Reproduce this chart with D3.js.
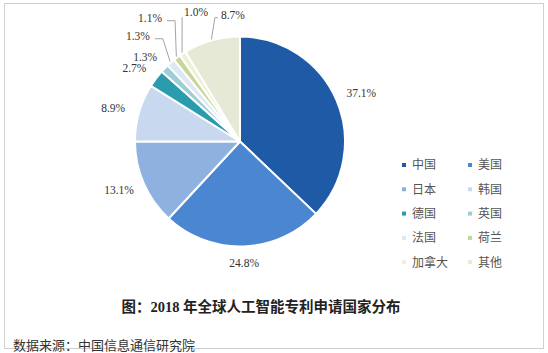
<!DOCTYPE html>
<html><head><meta charset="utf-8">
<script src="https://cdn.jsdelivr.net/npm/d3@7/dist/d3.min.js"></script>
<style>
html,body{margin:0;padding:0;background:#fff;}
svg{display:block;}
text{font-family:"Liberation Serif","Noto Sans CJK SC",serif;}
</style></head>
<body>
<svg id="c" width="548" height="353"></svg>
<script>
const categories = ["中国","美国","日本","韩国","德国","英国","法国","荷兰","加拿大","其他"];
const values = [37.1, 24.8, 13.1, 8.9, 2.7, 1.3, 1.3, 1.1, 1.0, 8.7];
const labels = ["37.1%","24.8%","13.1%","8.9%","2.7%","1.3%","1.3%","1.1%","1.0%","8.7%"];
const colors = ["#1f5aa7","#4b87d0","#8eb1e0","#c8d8ef","#2b9bae","#9fcdd6","#dde8f3","#c7d69a","#eef1d6","#e5e9d6"];
const title = "图：2018 年全球人工智能专利申请国家分布";
const source = "数据来源：中国信息通信研究院";

const svg = d3.select("#c");
// frame
svg.append("rect").attr("x",4.5).attr("y",3.5).attr("width",539).attr("height",345)
  .attr("fill","none").attr("stroke","#cfcfcf").attr("stroke-width",1);

const cx = 240, cy = 141.5, r = 105;
const g = svg.append("g").attr("transform",`translate(${cx},${cy})`);
const pie = d3.pie().sort(null).value(d=>d);
const arcs = pie(values);
const arc = d3.arc().innerRadius(0).outerRadius(r);
const color = d3.scaleOrdinal().domain(categories).range(colors);

g.selectAll("path").data(arcs).enter().append("path")
  .attr("d",arc).attr("fill",(d,i)=>color(categories[i]))
  .attr("stroke","#fff").attr("stroke-width",2).attr("stroke-linejoin","round");

// labels: default placement just outside slice
const tw = 32, th = 12;
// leader-line labels: label polar position (radius, angle in degrees)
const moved = {6:{R:147,a:316,elbow:-1}, 7:{R:153,a:324,elbow:-1}, 8:{R:137,a:340.5,elbow:0}, 9:{R:127,a:356.8,elbow:1}};
arcs.forEach((d,i)=>{
  const mid = (d.startAngle+d.endAngle)/2;
  const s = Math.sin(mid), c = Math.cos(mid);
  let x, y;
  if (moved[i]) {
    const m = moved[i], a = m.a*Math.PI/180;
    x = m.R*Math.sin(a); y = -m.R*Math.cos(a);
    const ex = (r+1)*s, ey = -(r+1)*c;
    let pts;
    if (m.elbow < 0) {
      const hx = x + tw/2 + 1, hy = y + 3;
      pts = [[hx,hy],[hx+8,hy],[ex,ey]];
    } else if (m.elbow > 0) {
      const hx = x - tw/2 - 2, hy = y + 3;
      pts = [[hx+3,hy],[hx,hy],[ex,ey]];
    } else {
      pts = [[ex,y+5],[ex,ey]];
      x = ex + 14;
    }
    g.append("path").attr("d",d3.line()(pts)).attr("fill","none")
      .attr("stroke","#8c8c8c").attr("stroke-width",0.8);
  } else {
    const R = r + 11;
    x = R*s + s*tw/2; y = -R*c - c*th/2;
  }
  g.append("text").attr("x",x).attr("y",y).attr("dy","0.35em")
    .attr("text-anchor","middle").attr("font-size",11.5).attr("fill","#333")
    .text(labels[i]);
});

// legend
const lg = svg.append("g");
categories.forEach((name,i)=>{
  const col = i%2, row = Math.floor(i/2);
  const x = 404 + col*66, y = 165 + row*24.3;
  lg.append("rect").attr("x",x-2).attr("y",y-2).attr("width",4).attr("height",4).attr("fill",color(name));
  lg.append("text").attr("x",x+8).attr("y",y).attr("dy","0.36em")
    .attr("font-size",12).attr("fill","#555").text(name);
});

svg.append("text").attr("x",261).attr("y",307).attr("dy","0.35em").attr("text-anchor","middle")
  .attr("font-size",14.5).attr("font-weight","bold").attr("fill","#222").text(title);
svg.append("text").attr("x",13).attr("y",345).attr("dy","0.35em")
  .attr("font-size",13).attr("fill","#333").text(source);
</script>
</body></html>
